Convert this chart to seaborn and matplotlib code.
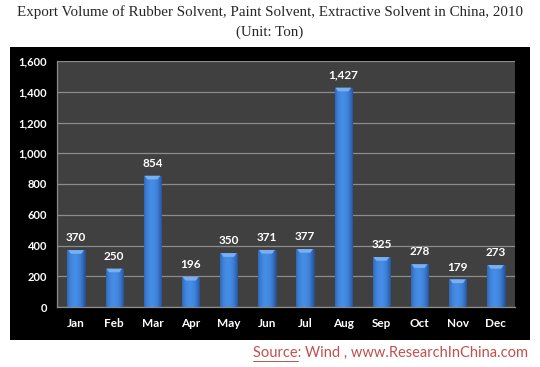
import numpy as np
import pandas as pd
import matplotlib
matplotlib.use("Agg")
import matplotlib.pyplot as plt
import seaborn as sns
from matplotlib.patches import Polygon
from matplotlib.lines import Line2D

# Datos
meses = ["Jan", "Feb", "Mar", "Apr", "May", "Jun", "Jul", "Aug", "Sep", "Oct", "Nov", "Dec"]
volumen = [370, 250, 854, 196, 350, 371, 377, 1427, 325, 278, 179, 273]
yticks = [0, 200, 400, 600, 800, 1000, 1200, 1400, 1600]

df = pd.DataFrame({"mes": meses, "volumen": volumen})

sns.set_style("white")
plt.rcParams["font.family"] = ["Lato", "DejaVu Sans"]

fig = plt.figure(figsize=(5.4, 3.67), dpi=100)
fig.patch.set_facecolor("white")

# Panel negro de fondo
bg = fig.add_axes([10 / 540, 1 - 340 / 367, 520 / 540, 293 / 367])
bg.set_facecolor("black")
bg.set_xticks([])
bg.set_yticks([])
for s in bg.spines.values():
    s.set_visible(False)
bg.set_zorder(0)

ax = fig.add_axes([57 / 540, 1 - 307 / 367, 458 / 540, 246 / 367])
ax.set_zorder(1)
ax.set_facecolor("#404040")

sns.barplot(data=df, x="mes", y="volumen", color="#3f80d8", width=0.45,
            edgecolor="#23508e", linewidth=0.6, ax=ax, zorder=3)

# Degradado horizontal en cada barra
grad = np.linspace(0, 1, 64)
dark = np.array([0.15, 0.33, 0.62])
light = np.array([0.27, 0.55, 0.90])
t = np.clip(1 - (np.abs(grad - 0.45) / 0.55) ** 2.2, 0, 1)
img = (dark[None, :] * (1 - t[:, None]) + light[None, :] * t[:, None])[None, :, :]
for p in list(ax.patches):
    x0, w, h = p.get_x(), p.get_width(), p.get_height()
    im = ax.imshow(img, extent=(x0, x0 + w, 0, h), aspect="auto", zorder=4)
    im.set_clip_path(p)
    # bisel superior
    ax.add_patch(Polygon([(x0 + w * 0.04, h), (x0 + w * 0.96, h),
                          (x0 + w * 0.80, h - 24), (x0 + w * 0.20, h - 24)],
                         closed=True, facecolor="#78b0f2", edgecolor="none", zorder=5))
    ax.annotate(f"{int(h):,}", (x0 + w / 2, h + 45), ha="center", va="bottom",
                color="white", fontsize=8.5, fontweight="bold")

ax.set_xlim(-0.5, 11.5)
ax.set_ylim(0, 1600)
ax.set_yticks(yticks)
ax.set_yticklabels([f"{v:,}" for v in yticks])
ax.grid(axis="y", color="#8c8c8c", linewidth=0.9, zorder=1)
ax.set_axisbelow(True)

ax.set_xlabel("")
ax.set_ylabel("")
for s in ["top", "right"]:
    ax.spines[s].set_visible(False)
for s in ["left", "bottom"]:
    ax.spines[s].set_color("#8c8c8c")
    ax.spines[s].set_linewidth(0.9)

ax.tick_params(axis="y", colors="white", labelsize=8, length=3, color="#8c8c8c", pad=4)
ax.tick_params(axis="x", colors="white", labelsize=8.5, length=0, pad=8)
for lbl in ax.get_xticklabels() + ax.get_yticklabels():
    lbl.set_fontweight("bold")
    lbl.set_color("white")

# marcas entre categorias
ax.set_xticks(np.arange(-0.5, 12, 1), minor=True)
ax.tick_params(axis="x", which="minor", length=4, color="#8c8c8c", direction="out")

# Titulo
fig.text(0.5, 1 - 12 / 367, "Export Volume of Rubber Solvent, Paint Solvent, Extractive Solvent in China, 2010",
         ha="center", va="center", fontsize=10.8, family="Liberation Serif")
fig.text(0.5, 1 - 32 / 367, "(Unit: Ton)", ha="center", va="center", fontsize=10.8,
         family="Liberation Serif")

# Fuente
src = fig.text(528 / 540, 1 - 353 / 367, "Source: Wind , www.ResearchInChina.com",
               ha="right", va="center", fontsize=10.5, color="#c0504d")
fig.canvas.draw()
bb = src.get_window_extent()
# subrayado de "Source"
src_w = bb.width * 0.165
fig.lines.append(Line2D([bb.x0 / 540, (bb.x0 + src_w) / 540],
                        [(bb.y0 - 0.5) / 367, (bb.y0 - 0.5) / 367],
                        transform=fig.transFigure, color="#c0504d", linewidth=0.7))

plt.savefig("out.png", dpi=100)
